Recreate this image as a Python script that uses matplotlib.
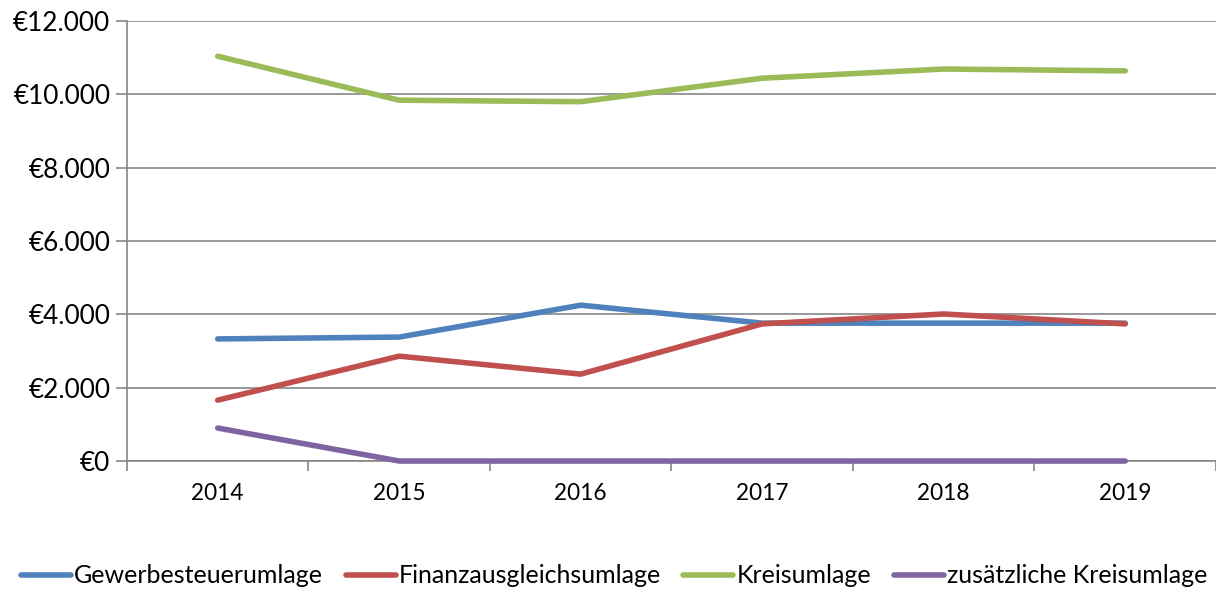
import matplotlib
matplotlib.use("Agg")
import matplotlib.pyplot as plt
from matplotlib.ticker import FuncFormatter, FixedLocator

plt.rcParams['font.family'] = ['Lato', 'DejaVu Sans']

years = ['2014', '2015', '2016', '2017', '2018', '2019']
gewerbe = [3330, 3380, 4250, 3760, 3760, 3760]
finanz = [1660, 2860, 2370, 3740, 4010, 3740]
kreis = [11040, 9840, 9800, 10440, 10690, 10640]
zusatz = [900, 0, 0, 0, 0, 0]

series = [
    ('Gewerbesteuerumlage', gewerbe, '#4F81BD'),
    ('Finanzausgleichsumlage', finanz, '#C0504D'),
    ('Kreisumlage', kreis, '#9BBB59'),
    ('zusätzliche Kreisumlage', zusatz, '#8064A2'),
]

fig = plt.figure(figsize=(12.16, 5.90), dpi=100)
ax = fig.add_axes([0.1044, 0.2186, 0.8956, 0.7458])

x = list(range(len(years)))
for name, vals, col in series:
    ax.plot(x, vals, color=col, lw=4.0, label=name, solid_capstyle='round',
            zorder=3, clip_on=False)

ax.set_xlim(-0.5, len(years) - 0.5)
ax.set_ylim(0, 12000)
ax.set_yticks(range(0, 12001, 2000))
ax.yaxis.set_major_formatter(FuncFormatter(lambda v, p: '€' + format(int(v), ',').replace(',', '.')))

ax.set_xticks(x)
ax.set_xticklabels(years)
ax.xaxis.set_minor_locator(FixedLocator([i - 0.5 for i in range(len(years) + 1)]))
ax.tick_params(axis='x', which='major', length=0, labelsize=16.3, pad=16)
ax.tick_params(axis='x', which='minor', length=7, color='#868686', width=1.2)
ax.tick_params(axis='y', length=8, color='#868686', width=1.2, labelsize=18.8, pad=4)

ax.grid(axis='y', color='#868686', lw=1.2, zorder=1)
for s in ['top', 'right']:
    ax.spines[s].set_visible(False)
for s in ['left', 'bottom']:
    ax.spines[s].set_color('#868686')
    ax.spines[s].set_linewidth(1.2)
    ax.spines[s].set_zorder(2)

fig.legend(loc='center', bbox_to_anchor=(0.505, 0.024), ncol=4, frameon=False,
           fontsize=18, handlelength=2.0, handletextpad=0.12, columnspacing=0.9)

fig.savefig('out.png', dpi=100)
